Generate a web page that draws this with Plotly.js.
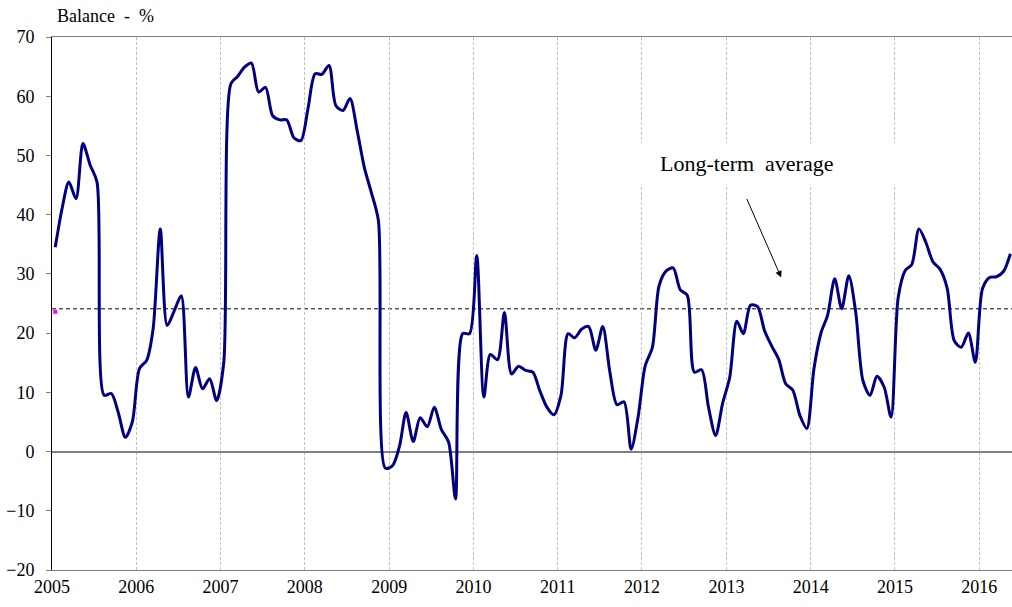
<!DOCTYPE html>
<html>
<head>
<meta charset="utf-8">
<script src="https://cdn.plot.ly/plotly-3.0.1.min.js"></script>
<style>html,body{margin:0;padding:0;background:#fff;}#chart{width:1012px;height:607px;}</style>
</head>
<body>
<div id="chart"></div>
<script>
// Monthly balance (%), Jan 2005 .. May 2016
const v2005 = [34.5, 41.3, 45.5, 42.7, 52, 48.4, 45.5, 9.5, 9.8, 6.6, 2.4, 5];
const v2006 = [14, 15.4, 20.7, 37.6, 21.3, 23.8, 26.3, 9.2, 14.2, 10.6, 12.3, 8.6];
const v2007 = [15, 62.1, 63.3, 64.9, 65.6, 60.7, 61.5, 56.7, 56, 56, 53, 52.5];
const v2008 = [57.9, 63.8, 63.7, 65.2, 58.4, 57.6, 59.6, 54.2, 48, 43.8, 39, -2.8];
const v2009 = [-2.4, 1, 6.6, 1.7, 5.7, 4.2, 7.5, 3.7, 1.6, -8, 19.9, 19.9];
const v2010 = [33.1, 9.2, 16.4, 15.5, 23.5, 13.1, 14.4, 13.7, 13.4, 10.3, 7.5, 6.2];
const v2011 = [9.5, 19.9, 19.2, 20.7, 21.1, 17.1, 21.1, 13.4, 7.9, 8.4, 0.4, 5.8];
const v2012 = [14.5, 17.6, 28, 30.5, 31, 27.3, 26.4, 13.4, 13.8, 7.5, 2.7, 8.1];
const v2013 = [12.5, 22, 19.9, 24.7, 24.5, 20.4, 17.9, 15.6, 11.4, 10.4, 6.1, 3.9];
const v2014 = [14, 20.1, 23, 29.2, 24.1, 29.7, 23.5, 12, 9.5, 12.7, 10.9, 5.8];
const v2015 = [26, 30.6, 31.6, 37.6, 35.3, 32, 30.8, 27.6, 18.7, 17.6, 20, 15.1];
const v2016 = [27.5, 29.4, 29.5, 30.4, 33.4];

const yearSeries = [
  [2005, v2005], [2006, v2006], [2007, v2007], [2008, v2008], [2009, v2009], [2010, v2010],
  [2011, v2011], [2012, v2012], [2013, v2013], [2014, v2014], [2015, v2015], [2016, v2016]
];

const longTermAverage = 24.1;
const firstPointMarker = 23.6;
const yearTicks = ['2005','2006','2007','2008','2009','2010','2011','2012','2013','2014','2015','2016'];
const yTicks = [-20, -10, 0, 10, 20, 30, 40, 50, 60, 70];

const dates = [], balance = [];
yearSeries.forEach(([yr, vals]) => {
  vals.forEach((v, m) => {
    dates.push(yr + '-' + String(m + 1).padStart(2, '0') + '-15');
    balance.push(v);
  });
});

const serif = 'Liberation Serif';

const traces = [
  {
    x: dates, y: balance, type: 'scatter', mode: 'lines',
    line: {color: '#000080', width: 3, shape: 'spline', smoothing: 0.8},
    hoverinfo: 'x+y', showlegend: false
  },
  {
    x: [dates[0]], y: [firstPointMarker], type: 'scatter', mode: 'markers',
    marker: {symbol: 'square', size: 4, color: '#FF00FF'},
    showlegend: false, cliponaxis: false
  }
];

const layout = {
  width: 1012, height: 607,
  margin: {l: 52, r: 0, t: 37, b: 37},
  paper_bgcolor: '#ffffff', plot_bgcolor: '#ffffff',
  font: {family: serif, size: 18, color: '#000'},
  showlegend: false,
  title: {
    text: 'Balance  -  %', x: 57 / 1012, xanchor: 'left', xref: 'container',
    y: 1 - 16 / 607, yanchor: 'middle', yref: 'container',
    font: {family: serif, size: 18, color: '#000'}
  },
  xaxis: {
    type: 'date', range: ['2005-01-01', '2016-05-22'],
    tickmode: 'array',
    tickvals: yearTicks.map(y => y + '-01-01'),
    ticktext: yearTicks,
    showgrid: true, gridcolor: '#c0c0c0', griddash: '3px,2px', gridwidth: 1,
    showline: true, linecolor: '#808080', linewidth: 1, mirror: true,
    ticks: '', zeroline: false,
    tickfont: {family: serif, size: 18, color: '#000'}
  },
  yaxis: {
    range: [-20, 70], tickmode: 'array', tickvals: yTicks,
    showgrid: false,
    zeroline: true, zerolinecolor: '#808080', zerolinewidth: 2,
    showline: true, linecolor: '#000', linewidth: 1,
    ticks: 'outside', ticklen: 5, tickcolor: '#808080', tickwidth: 1,
    ticklabelstandoff: 8,
    tickfont: {family: serif, size: 18, color: '#000'}
  },
  shapes: [
    {
      type: 'line', xref: 'paper', x0: 0, x1: 1, yref: 'y', y0: longTermAverage, y1: longTermAverage,
      line: {color: '#000', width: 1, dash: '4px,3px'}, layer: 'between'
    },
    {
      type: 'rect', xref: 'x', yref: 'y', x0: '2011-09-25', x1: '2015-01-25', y0: 45.1, y1: 52.0,
      fillcolor: '#ffffff', line: {width: 0}, layer: 'between'
    }
  ],
  annotations: [
    {
      x: '2013-03-28', y: 48.6, xref: 'x', yref: 'y', text: 'Long-term  average',
      showarrow: false, font: {family: serif, size: 22, color: '#000'}
    },
    {
      x: '2013-08-26', y: 29.4, xref: 'x', yref: 'y', text: '',
      showarrow: true, ax: -35, ay: -80, arrowhead: 2, arrowsize: 1.3, arrowwidth: 1,
      arrowcolor: '#000', standoff: 0
    }
  ]
};

Plotly.newPlot('chart', traces, layout, {displayModeBar: false, staticPlot: true});
</script>
</body>
</html>
